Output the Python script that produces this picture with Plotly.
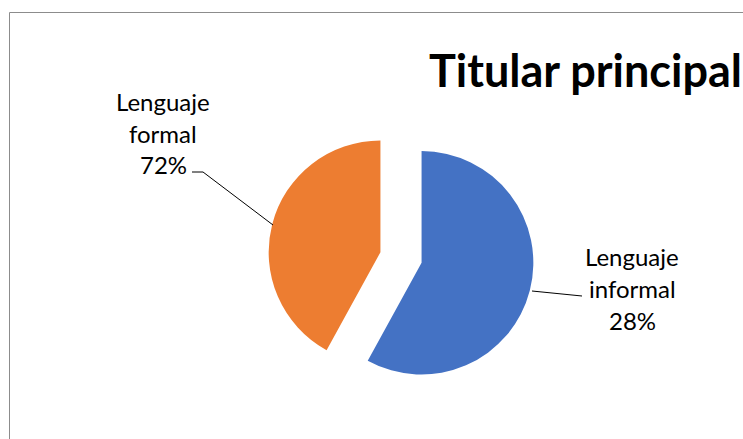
import plotly.graph_objects as go

W, H = 743, 439

categories = ["Lenguaje informal", "Lenguaje formal"]
values = [58, 42]                 # visual slice sizes
label_pct = ["28%", "72%"]       # percentages as printed in the chart
colors = ["#4472C4", "#ED7D31"]
title_text = "Titular principal"

FONT = "Lato"

def px(x):
    return x / W

def py(y):
    return 1 - y / H

fig = go.Figure()

# pie: center (401, 257.5), radius ~111, pull 0.19
cx, cy, S = 401, 257.5, 266
fig.add_trace(go.Pie(
    labels=categories,
    values=values,
    marker=dict(colors=colors, line=dict(width=0)),
    sort=False,
    direction="clockwise",
    rotation=0,
    pull=[0.19, 0.19],
    textinfo="none",
    hoverinfo="label+percent",
    showlegend=False,
    domain=dict(x=[px(cx - S / 2), px(cx + S / 2)], y=[py(cy + S / 2), py(cy - S / 2)]),
))

annotations = []
shapes = []

# data labels (each line separately to match line spacing)
label_specs = [
    (1, 163, [108, 140, 172]),   # formal
    (0, 632, [263, 295, 327]),   # informal
]
fs = 24
for idx, xc, baselines in label_specs:
    words = categories[idx].split(" ")
    lines = words + [label_pct[idx]]
    for line, b in zip(lines, baselines):
        annotations.append(dict(
            x=px(xc), y=py(b - 7), xref="paper", yref="paper",
            text=line, showarrow=False, xanchor="center", yanchor="middle",
            font=dict(family=FONT, size=fs, color="#000000"),
        ))

# leader lines
leader_paths = [
    [(192, 172), (203, 172), (273, 225)],
    [(582, 296), (532, 291)],
]
for pts in leader_paths:
    path = "M " + " L ".join(f"{px(x)},{py(y)}" for x, y in pts)
    shapes.append(dict(type="path", path=path, xref="paper", yref="paper",
                       line=dict(color="#000000", width=1)))

# title
annotations.append(dict(
    x=px(585), y=py(70), xref="paper", yref="paper", text=f"<b>{title_text}</b>",
    showarrow=False, xanchor="center", yanchor="middle",
    font=dict(family=FONT, size=45, color="#000000"),
))

# chart border (extends beyond the visible area)
shapes.append(dict(type="rect", xref="paper", yref="paper",
                   x0=px(9.5), x1=px(W + 20), y0=py(H + 20), y1=py(12.5),
                   line=dict(color="#8C8C8C", width=1), fillcolor="rgba(0,0,0,0)"))

fig.update_layout(
    width=W, height=H,
    margin=dict(l=0, r=0, t=0, b=0),
    paper_bgcolor="#FFFFFF",
    plot_bgcolor="#FFFFFF",
    annotations=annotations,
    shapes=shapes,
)

fig.write_html(
    "out.html",
    config={"displayModeBar": False},
    post_script="document.body.style.margin='0';document.body.style.overflow='hidden';",
)
